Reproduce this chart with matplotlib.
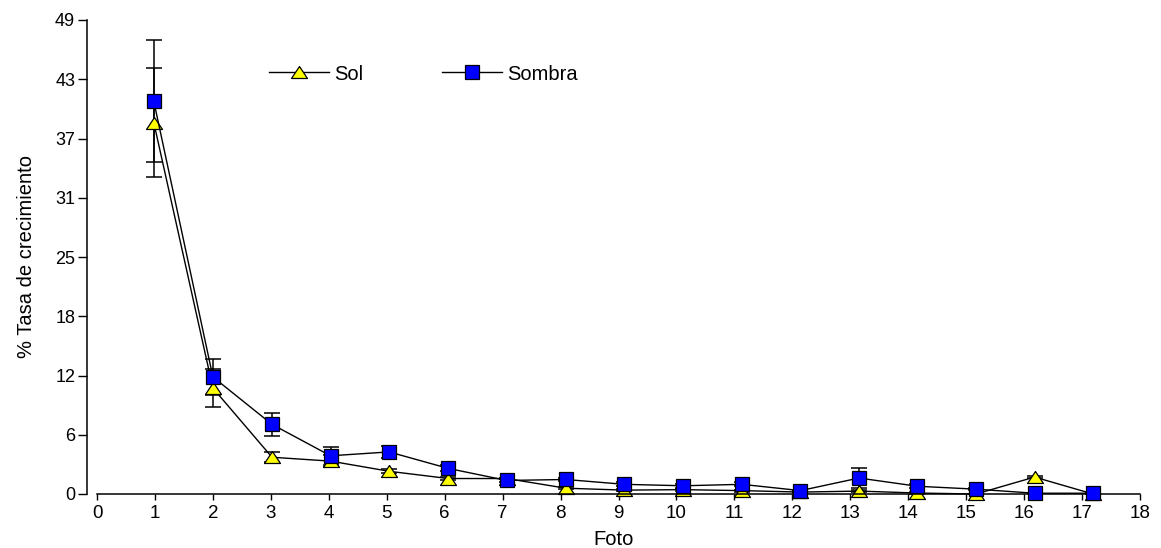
import numpy as np
import matplotlib
matplotlib.use("Agg")
import matplotlib.pyplot as plt

plt.rcParams["font.family"] = ["Liberation Sans", "DejaVu Sans"]

# positions of the photos on the x axis
foto = [0.98, 2.0, 3.02, 4.03, 5.04, 6.06, 7.07, 8.09, 9.1, 10.12,
        11.13, 12.14, 13.15, 14.16, 15.17, 16.18, 17.19]

sol = [38.4, 10.95, 3.8, 3.4, 2.35, 1.6, 1.6, 0.6, 0.4, 0.45,
       0.35, 0.2, 0.3, 0.1, 0.0, 1.75, 0.0]
sol_err = [5.6, 2.0, 0.5, 0.6, 0.2, 0.2, 0.1, 0.1, 0.1, 0.1,
           0.1, 0.1, 0.1, 0.1, 0.0, 0.1, 0.0]

sombra = [40.6, 12.1, 7.2, 3.95, 4.35, 2.65, 1.4, 1.5, 1.0, 0.85,
          1.0, 0.35, 1.65, 0.8, 0.5, 0.08, 0.08]
sombra_err = [6.3, 1.9, 1.2, 0.95, 0.6, 0.3, 0.2, 0.2, 0.2, 0.2,
              0.2, 0.1, 1.05, 0.2, 0.1, 0.0, 0.0]

y_ticks = np.linspace(0, 49, 9)
y_labels = ["0", "6", "12", "18", "25", "31", "37", "43", "49"]
x_ticks = list(range(0, 19))

tri = [(0, 0.75), (-1, -0.75), (1, -0.75), (0, 0.75)]

fig = plt.figure(figsize=(11.61, 5.48), dpi=100)
ax = fig.add_axes([87 / 1161, 1 - 494 / 548, (1140 - 87) / 1161, (494 - 20) / 548])

ax.errorbar(foto, sol, yerr=sol_err, fmt="none", ecolor="black",
            elinewidth=1.1, capsize=5.8, capthick=1.1, zorder=1)
ax.errorbar(foto, sombra, yerr=sombra_err, fmt="none", ecolor="black",
            elinewidth=1.1, capsize=5.8, capthick=1.1, zorder=1)

l_sol, = ax.plot(foto, sol, color="black", lw=1, marker=tri, ms=11.5,
                 mfc="#ffff00", mec="black", mew=0.9, zorder=2, clip_on=False)
l_sombra, = ax.plot(foto, sombra, color="black", lw=1, marker="s", ms=10,
                    mfc="#0000ff", mec="black", mew=0.9, zorder=3, clip_on=False)

ax.set_xlim(-10 / 57.94, 18)
ax.set_ylim(0, 49)
ax.spines["top"].set_visible(False)
ax.spines["right"].set_visible(False)
ax.spines["bottom"].set_bounds(0, 18)
ax.spines["left"].set_linewidth(1.1)
ax.spines["bottom"].set_linewidth(1.1)

ax.set_xticks(x_ticks)
ax.set_xticklabels([str(t) for t in x_ticks], fontsize=13.5)
ax.set_yticks(y_ticks)
ax.set_yticklabels(y_labels, fontsize=13)
ax.tick_params(axis="x", direction="out", length=4, width=1, pad=4)
ax.tick_params(axis="y", direction="out", length=6.5, width=1, pad=2)

ax.set_xlabel("Foto", fontsize=14.5, labelpad=6)
ax.set_ylabel("% Tasa de crecimiento", fontsize=14.5, labelpad=14)

fig.legend([l_sol, l_sombra], ["Sol", "Sombra"], ncol=2, frameon=False,
           loc="center left", bbox_to_anchor=(269 / 1161, 1 - 74 / 548),
           borderpad=0, borderaxespad=0, fontsize=14.5, numpoints=1,
           handlelength=2.98, handletextpad=0.25, columnspacing=3.9)

fig.savefig("out.png", dpi=100)
